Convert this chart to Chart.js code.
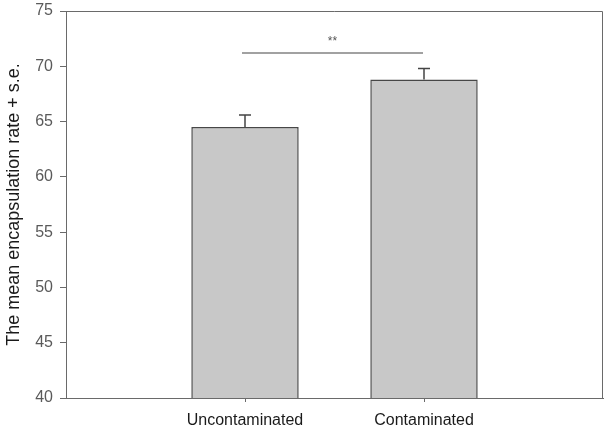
<!DOCTYPE html>
<html><head><meta charset="utf-8">
<script src="https://cdn.jsdelivr.net/npm/chart.js@4"></script>
<style>html,body{margin:0;padding:0;background:#fff}</style>
</head><body>
<canvas id="c" width="609" height="430"></canvas>
<script>
const categories = ['Uncontaminated', 'Contaminated'];
const means = [64.5, 68.8];
const stdErr = [1.1, 1.0];
const yTicks = [40, 45, 50, 55, 60, 65, 70, 75];
const sigLevel = 71.2;
const sigText = '**';
const yTitle = 'The mean encapsulation rate + s.e.';

const FONT = '"Liberation Sans", Arial, sans-serif';

const extras = {
  id: 'extras',
  afterDatasetsDraw(chart) {
    const {ctx, chartArea: a, scales: {x, y}} = chart;
    ctx.save();
    // frame
    ctx.strokeStyle = '#6a6a6a';
    ctx.lineWidth = 1;
    ctx.beginPath();
    ctx.moveTo(a.left, a.top + 0.5);
    ctx.lineTo(a.right - 0.5, a.top + 0.5);
    ctx.lineTo(a.right - 0.5, a.bottom);
    ctx.stroke();
    // error bars
    ctx.strokeStyle = '#444';
    ctx.lineWidth = 1.5;
    means.forEach((m, i) => {
      const px = x.getPixelForValue(i + 1);
      const y0 = y.getPixelForValue(m);
      const y1 = y.getPixelForValue(m + stdErr[i]);
      ctx.beginPath();
      ctx.moveTo(px, y0);
      ctx.lineTo(px, y1);
      ctx.moveTo(px - 6, y1);
      ctx.lineTo(px + 6, y1);
      ctx.stroke();
    });
    // significance line
    const sy = y.getPixelForValue(sigLevel);
    const sx1 = x.getPixelForValue(1) - 3, sx2 = x.getPixelForValue(2) - 1;
    ctx.lineWidth = 1.2;
    ctx.beginPath();
    ctx.moveTo(sx1, sy);
    ctx.lineTo(sx2, sy);
    ctx.stroke();
    ctx.fillStyle = '#555';
    ctx.font = '12px ' + FONT;
    ctx.textAlign = 'center';
    ctx.textBaseline = 'alphabetic';
    ctx.fillText(sigText, (sx1 + sx2) / 2, sy - 8);
    ctx.restore();
  }
};

new Chart(document.getElementById('c'), {
  type: 'bar',
  data: {
    datasets: [{
      data: means.map((m, i) => ({x: i + 1, y: m})),
      backgroundColor: '#c8c8c8',
      borderColor: '#474747',
      borderWidth: 1.5,
      borderSkipped: false,
      categoryPercentage: 1,
      barPercentage: 0.6
    }]
  },
  options: {
    responsive: false,
    animation: false,
    devicePixelRatio: 1,
    layout: {padding: {top: 11, right: 6, left: 0, bottom: 0}},
    plugins: {legend: {display: false}, tooltip: {enabled: false}},
    scales: {
      x: {
        type: 'linear',
        min: 0, max: 3,
        offset: false,
        grid: {display: true, drawOnChartArea: false, offset: false, tickLength: 4, tickColor: '#6a6a6a'},
        border: {color: '#6a6a6a', width: 1},
        afterBuildTicks: s => { s.ticks = categories.map((c, i) => ({value: i + 1})); },
        afterFit: s => { s.height = 32; s.paddingLeft = 0; s.paddingRight = 0; },
        ticks: {
          padding: 9,
          color: '#1a1a1a',
          font: {family: FONT, size: 16},
          callback: v => categories[v - 1] || ''
        }
      },
      y: {
        min: 40, max: 75,
        grid: {display: true, drawOnChartArea: false, tickLength: 6, tickColor: '#6a6a6a'},
        border: {color: '#6a6a6a', width: 1},
        afterBuildTicks: s => { s.ticks = yTicks.map(v => ({value: v})); },
        afterFit: s => { s.width = 66; s.paddingTop = 0; s.paddingBottom = 0; },
        ticks: {
          padding: 7,
          color: '#5a5a5a',
          font: {family: FONT, size: 16}
        },
        title: {
          display: true,
          text: yTitle,
          color: '#1a1a1a',
          font: {family: FONT, size: 18},
          padding: {top: 3, bottom: 2}
        }
      }
    }
  },
  plugins: [extras]
});
</script>
</body></html>
